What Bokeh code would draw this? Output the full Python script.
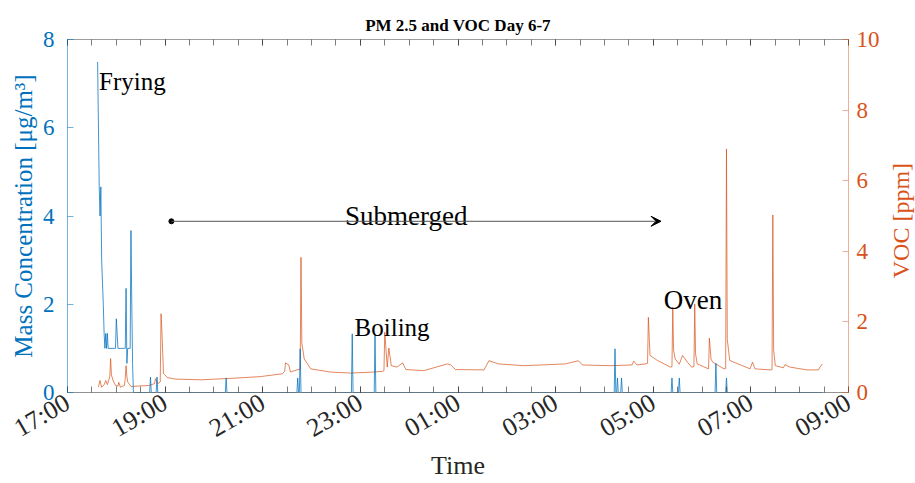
import math
from bokeh.plotting import figure
from bokeh.models import Range1d, LinearAxis, FixedTicker, Label, Arrow, VeeHead
from bokeh.embed import file_html
from bokeh.resources import INLINE

SERIF = "Liberation Serif"
BLUE = "#0072BD"
ORANGE = "#D95319"
DARK = "#262626"

# ---------------- data ----------------
tick_labels = ["17:00", "19:00", "21:00", "23:00", "01:00", "03:00", "05:00", "07:00", "09:00"]

pm_time = ["17:37", "17:39", "17:40", "17:41", "17:42", "17:44", "17:45", "17:46", "17:47", "17:48",
           "17:49", "17:50", "17:59", "18:00", "18:01", "18:02", "18:09", "18:11", "18:12", "18:13",
           "18:14", "18:17", "18:18", "18:19", "18:20", "18:21",
           "18:41", "18:42", "18:43", "18:49", "18:50", "18:51", "20:14", "20:15", "20:16",
           "21:42", "21:43", "21:44", "21:45", "21:46", "21:47", "22:49", "22:50", "22:51",
           "23:17", "23:18", "23:19", "04:12", "04:13", "04:14", "04:15", "04:16", "04:17",
           "04:20", "04:21", "04:22", "05:22", "05:23", "05:24", "05:31", "05:32", "05:33",
           "06:16", "06:17", "06:18", "06:29", "06:30", "06:31", "08:28"]
pm_value = [7.49, 4.66, 4.00, 4.66, 3.00, 2.00, 1.34, 1.00, 1.34, 1.00,
            1.34, 1.00, 1.00, 1.67, 1.34, 1.00, 1.00, 1.00, 2.36, 0.66,
            1.00, 1.00, 3.67, 2.00, 0.66, 0.00,
            0.00, 0.35, 0.00, 0.00, 0.35, 0.00, 0.00, 0.33, 0.00,
            0.00, 0.33, 0.00, 0.00, 0.99, 0.00, 0.00, 1.33, 0.00,
            0.00, 1.33, 0.00, 0.00, 0.99, 0.00, 0.00, 0.33, 0.00,
            0.00, 0.33, 0.00, 0.00, 0.33, 0.00, 0.00, 0.33, 0.00,
            0.00, 0.66, 0.00, 0.00, 0.33, 0.00, 0.00]

voc_time = ["17:38", "17:40", "17:42", "17:45", "17:47", "17:49", "17:52", "17:53", "17:54", "17:56",
            "17:59", "18:02", "18:03", "18:05", "18:10", "18:11", "18:12", "18:13", "18:14", "18:18",
            "18:40", "18:47", "18:48", "18:50", "18:51", "18:54", "18:55", "18:56", "18:58", "19:03",
            "19:13", "19:44", "20:21", "20:57", "21:24", "21:27", "21:28", "21:32", "21:34", "21:42",
            "21:46", "21:47", "21:48", "21:51", "21:59", "22:23", "22:48", "23:17", "23:27", "23:29",
            "23:30", "23:33", "23:35", "23:38", "23:45", "23:52", "23:56", "00:18", "00:47", "00:51",
            "00:57", "01:32", "01:38", "01:50", "02:21", "03:12", "03:28", "03:33", "04:07", "04:34",
            "04:36", "04:40", "04:50", "04:53", "04:54", "04:56", "05:05", "05:21", "05:23", "05:24",
            "05:25", "05:27", "05:32", "05:36", "05:42", "05:47", "05:50", "05:51", "05:52", "05:54",
            "06:08", "06:09", "06:11", "06:13", "06:27", "06:29", "06:30", "06:31", "06:34", "06:39",
            "06:59", "07:02", "07:05", "07:24", "07:26", "07:27", "07:28", "07:30", "07:40", "07:42",
            "07:48", "08:09", "08:23", "08:25", "08:28"]
voc_value = [0.15, 0.34, 0.15, 0.22, 0.34, 0.22, 0.45, 0.96, 0.50, 0.34,
             0.20, 0.18, 0.29, 0.15, 0.20, 0.40, 0.76, 0.45, 0.30, 0.17,
             0.20, 0.25, 0.39, 0.30, 0.25, 0.30, 2.23, 1.76, 0.54, 0.42,
             0.38, 0.36, 0.40, 0.45, 0.53, 0.60, 0.84, 0.78, 0.58, 0.64,
             0.66, 3.83, 1.40, 0.95, 0.67, 0.58, 0.55, 0.58, 0.60, 0.62,
             1.71, 0.72, 1.26, 0.76, 0.72, 0.84, 0.65, 0.62, 0.81, 0.78,
             0.65, 0.64, 0.90, 0.81, 0.76, 0.81, 0.90, 0.78, 0.76, 0.78,
             0.89, 0.78, 0.81, 0.83, 2.13, 1.05, 0.91, 0.72, 0.73, 2.42,
             1.20, 0.95, 0.80, 1.05, 0.86, 0.72, 0.73, 2.51, 1.10, 0.81,
             0.67, 1.54, 0.95, 0.86, 0.67, 0.68, 6.90, 1.50, 0.91, 0.86,
             0.67, 0.86, 0.67, 0.64, 0.65, 5.03, 1.20, 0.76, 0.70, 0.79,
             0.72, 0.64, 0.64, 0.72, 0.81]


def to_min(t):
    """minutes after 17:00 (times after midnight belong to the next day)"""
    h, m = (int(s) for s in t.split(":"))
    d = h * 60 + m - 17 * 60
    return d + 1440 if d < 0 else d


pm_x = [to_min(t) for t in pm_time]
voc_x = [to_min(t) for t in voc_time]
tick_pos = [to_min(t) for t in tick_labels]
minor_pos = list(range(tick_pos[0], tick_pos[-1] + 1, 30))

# ---------------- figure ----------------
p = figure(width=915, height=483, output_backend="svg", toolbar_location=None,
           x_range=Range1d(tick_pos[0], tick_pos[-1]), y_range=Range1d(0, 8),
           min_border_left=67, min_border_right=67, min_border_top=39, min_border_bottom=91,
           x_axis_label="Time", y_axis_label="Mass Concentration [μg/m³]")
p.extra_y_ranges = {"voc": Range1d(0, 10)}
p.xgrid.visible = False
p.ygrid.visible = False
p.outline_line_color = None
p.background_fill_color = "white"
p.border_fill_color = "white"

p.title.text = "PM 2.5 and VOC Day 6-7"
p.title.align = "center"
p.title.text_font = SERIF
p.title.text_font_size = "17px"
p.title.text_font_style = "bold"
p.title.text_color = "black"

xt = FixedTicker(ticks=tick_pos, minor_ticks=minor_pos)
xa = p.xaxis[0]
xa.ticker = xt
xa.major_label_overrides = {pos: lab for pos, lab in zip(tick_pos, tick_labels)}
xa.major_label_orientation = math.radians(30)
xa.major_label_text_font = SERIF
xa.major_label_text_font_size = "26px"
xa.major_label_text_color = DARK
xa.major_label_standoff = 8
xa.major_tick_in = 6
xa.major_tick_out = 0
xa.minor_tick_in = 6
xa.minor_tick_out = 0
xa.major_tick_line_color = DARK
xa.major_tick_line_alpha = 0.6
xa.minor_tick_line_color = DARK
xa.minor_tick_line_alpha = 0.6
xa.axis_line_color = DARK
xa.axis_line_alpha = 0.5
xa.axis_label_text_font = SERIF
xa.axis_label_text_font_size = "26px"
xa.axis_label_text_font_style = "normal"
xa.axis_label_text_color = DARK
xa.axis_label_standoff = -7

# top box edge with inward ticks, no labels
top = LinearAxis(ticker=FixedTicker(ticks=tick_pos, minor_ticks=minor_pos),
                 major_label_overrides={pos: "" for pos in tick_pos},
                 major_label_text_font_size="1px", major_label_standoff=0,
                 major_tick_in=6, major_tick_out=0, minor_tick_in=6, minor_tick_out=0,
                 major_tick_line_color=DARK, major_tick_line_alpha=0.6,
                 minor_tick_line_color=DARK, minor_tick_line_alpha=0.6,
                 axis_line_color=DARK, axis_line_alpha=0.45)
p.add_layout(top, "above")

ya = p.yaxis[0]
ya.ticker = FixedTicker(ticks=[0, 2, 4, 6, 8], minor_ticks=[])
ya.major_label_text_font = SERIF
ya.major_label_text_font_size = "23px"
ya.major_label_text_color = BLUE
ya.major_label_standoff = 13
ya.major_tick_in = 6
ya.major_tick_out = 0
ya.minor_tick_in = 0
ya.minor_tick_out = 0
ya.major_tick_line_color = BLUE
ya.major_tick_line_alpha = 0.55
ya.axis_line_color = BLUE
ya.axis_line_alpha = 0.55
ya.axis_label_text_font = SERIF
ya.axis_label_text_font_size = "25px"
ya.axis_label_text_font_style = "normal"
ya.axis_label_text_color = BLUE
ya.axis_label_standoff = 3

ra = LinearAxis(y_range_name="voc", ticker=FixedTicker(ticks=[0, 2, 4, 6, 8, 10], minor_ticks=[]),
                major_label_text_font=SERIF, major_label_text_font_size="23px",
                major_label_text_color=ORANGE, major_label_standoff=8,
                major_tick_in=6, major_tick_out=0, minor_tick_in=0, minor_tick_out=0,
                major_tick_line_color=ORANGE, major_tick_line_alpha=0.45,
                axis_line_color=ORANGE, axis_line_alpha=0.45)
p.add_layout(ra, "right")

# right-hand axis title, placed in the right side panel (reads bottom-to-top)
p.add_layout(Label(x=18, y=4.87, x_units="screen", y_units="data", y_range_name="voc",
                   text="VOC [ppm]", angle=math.pi / 2, text_align="center",
                   text_baseline="alphabetic", text_font=SERIF, text_font_size="24px",
                   text_color=ORANGE), "right")

# ---------------- data lines ----------------
p.line(voc_x, voc_value, line_color=ORANGE, line_width=1, line_alpha=0.7, y_range_name="voc")
p.line(pm_x, pm_value, line_color=BLUE, line_width=1, line_alpha=0.75)

# ---------------- annotations ----------------
def note(x, y, txt, size, align="center"):
    p.add_layout(Label(x=x, y=y, text=txt, text_align=align, text_baseline="alphabetic",
                       text_font=SERIF, text_font_size=size, text_color="black"))

note(38.8, 7.04, "Frying", "25px", align="left")
note(416.5, 4.01, "Submerged", "27px")
note(399.0, 1.48, "Boiling", "25px")
note(768.9, 2.09, "Oven", "27px")

arrow_y = 3.88
p.add_layout(Arrow(x_start=127.7, y_start=arrow_y, x_end=729.6, y_end=arrow_y,
                   line_color="#555555", line_width=1, start=None,
                   end=VeeHead(size=10, fill_color="black", line_color="black", line_width=1)))
p.scatter([127.7], [arrow_y], size=5, color="black")

open("out.html", "w").write(file_html(p, INLINE))
